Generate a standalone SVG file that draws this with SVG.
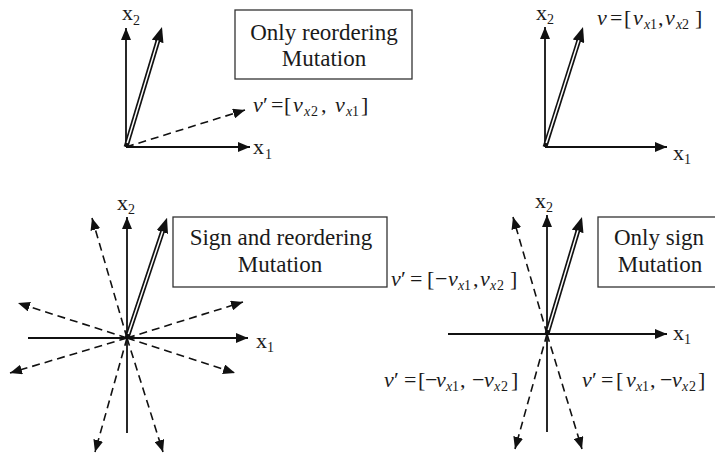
<svg xmlns="http://www.w3.org/2000/svg" width="715" height="460" viewBox="0 0 715 460" font-family="'Liberation Serif', 'DejaVu Serif', serif">
<style>
text, tspan{font-family:'Liberation Serif','DejaVu Serif',serif;fill:#1a1a1a}
.box{fill:#fff;stroke:#333;stroke-width:1.3}
.bt{font-size:23px;text-anchor:middle}
.ax{stroke:#111;stroke-width:1.8;fill:none;marker-end:url(#ah)}
.ds{stroke:#111;stroke-width:1.6;fill:none;stroke-dasharray:8,5;marker-end:url(#ah)}
.db{stroke:#111;stroke-width:4.8;fill:none;marker-end:url(#ahd)}
.dw{stroke:#fff;stroke-width:1.5;fill:none}
.m{font-size:22px}
.i{font-style:italic}
.s{font-size:14px}
.al{font-size:22px}
.as{font-size:14px}
</style>
<defs>
<marker id="ah" markerUnits="userSpaceOnUse" markerWidth="12" markerHeight="10" refX="12" refY="5" orient="auto"><path d="M0,0 L12,5 L0,10 z" fill="#111"/></marker>
<marker id="ahd" markerUnits="userSpaceOnUse" markerWidth="15" markerHeight="12" refX="7" refY="6" orient="auto"><path d="M0,0 L15,6 L0,12 z" fill="#111"/></marker>
</defs>

<g id="panel-top-left">
  <g id="box-reorder">
    <rect class="box" x="235" y="10" width="177" height="69"/>
    <text class="bt" x="324" y="40">Only reordering</text>
    <text class="bt" x="324" y="66">Mutation</text>
  </g>
  <g id="axes-tl">
    <line class="ax" x1="126" y1="147" x2="126" y2="28"/>
    <line class="ax" x1="126" y1="147" x2="250" y2="147"/>
    <text class="al" x="122" y="20">x</text><text class="as" x="133" y="25">2</text>
    <text class="al" x="253" y="154">x</text><text class="as" x="265" y="159">1</text>
  </g>
  <g id="vec-tl">
    <line class="db" x1="126" y1="147" x2="159.7" y2="34.7"/>
    <line class="dw" x1="127.2" y1="143" x2="158" y2="40.4"/>
  </g>
  <g id="vec-tl-reordered">
    <line class="ds" x1="126" y1="147" x2="245" y2="110"/>
    <text class="m">
      <tspan class="i" x="253" y="112">v</tspan><tspan x="263" y="112">′</tspan><tspan x="271" y="112">=</tspan><tspan x="284" y="112">[</tspan><tspan class="i" x="293" y="112">v</tspan><tspan class="i s" x="304" y="116">x</tspan><tspan class="s" x="311" y="116">2</tspan><tspan x="321" y="112">,</tspan><tspan class="i" x="335" y="112">v</tspan><tspan class="i s" x="346" y="116">x</tspan><tspan class="s" x="352" y="116">1</tspan><tspan x="361" y="112">]</tspan>
    </text>
  </g>
</g>

<g id="panel-top-right">
  <g id="axes-tr">
    <line class="ax" x1="545" y1="147" x2="545" y2="27"/>
    <line class="ax" x1="545" y1="147" x2="667" y2="147"/>
    <text class="al" x="536" y="20">x</text><text class="as" x="547" y="24">2</text>
    <text class="al" x="673" y="160">x</text><text class="as" x="684" y="164">1</text>
  </g>
  <g id="vec-tr">
    <line class="db" x1="545" y1="147" x2="580.6" y2="34.6"/>
    <line class="dw" x1="546.2" y1="143" x2="578.8" y2="40.3"/>
    <text class="m">
      <tspan class="i" x="597" y="25">v</tspan><tspan x="610" y="25">=</tspan><tspan x="624" y="25">[</tspan><tspan class="i" x="633" y="25">v</tspan><tspan class="i s" x="644" y="29">x</tspan><tspan class="s" x="650" y="29">1</tspan><tspan x="658" y="25">,</tspan><tspan class="i" x="665" y="25">v</tspan><tspan class="i s" x="676" y="29">x</tspan><tspan class="s" x="682" y="29">2</tspan><tspan x="695" y="25">]</tspan>
    </text>
  </g>
</g>

<g id="panel-bottom-left">
  <g id="box-sign-reorder">
    <rect class="box" x="173" y="217" width="214" height="70"/>
    <text class="bt" x="281" y="245">Sign and reordering</text>
    <text class="bt" x="280" y="272">Mutation</text>
  </g>
  <g id="axes-bl">
    <line class="ax" x1="127" y1="433" x2="127" y2="217"/>
    <line class="ax" x1="28" y1="338" x2="248" y2="338"/>
    <text class="al" x="117" y="210">x</text><text class="as" x="128" y="214">2</text>
    <text class="al" x="256" y="348">x</text><text class="as" x="267" y="352">1</text>
  </g>
  <g id="mutants-bl">
    <line class="ds" x1="127" y1="338" x2="92" y2="218"/>
    <line class="ds" x1="127" y1="338" x2="18" y2="303"/>
    <line class="ds" x1="127" y1="338" x2="243" y2="302"/>
    <line class="ds" x1="127" y1="338" x2="10" y2="373"/>
    <line class="ds" x1="127" y1="338" x2="235" y2="373"/>
    <line class="ds" x1="127" y1="338" x2="95" y2="452"/>
    <line class="ds" x1="127" y1="338" x2="163" y2="452"/>
  </g>
  <g id="vec-bl">
    <line class="db" x1="127" y1="338" x2="164.5" y2="225.4"/>
    <line class="dw" x1="128.3" y1="334" x2="162.6" y2="231.3"/>
  </g>
</g>

<g id="panel-bottom-right">
  <g id="box-sign">
    <rect class="box" x="598" y="217" width="122" height="70"/>
    <text class="bt" x="659" y="245">Only sign</text>
    <text class="bt" x="660" y="272">Mutation</text>
  </g>
  <g id="axes-br">
    <line class="ax" x1="547" y1="432" x2="547" y2="215"/>
    <line class="ax" x1="448" y1="334" x2="667" y2="334"/>
    <text class="al" x="535" y="208">x</text><text class="as" x="546" y="212">2</text>
    <text class="al" x="673" y="340">x</text><text class="as" x="684" y="344">1</text>
  </g>
  <g id="mutants-br">
    <line class="ds" x1="547" y1="334" x2="513" y2="217"/>
    <line class="ds" x1="547" y1="334" x2="515" y2="449"/>
    <line class="ds" x1="547" y1="334" x2="582" y2="449"/>
  </g>
  <g id="vec-br">
    <line class="db" x1="547" y1="334" x2="579.7" y2="224.7"/>
    <line class="dw" x1="548.2" y1="330" x2="578" y2="230.4"/>
  </g>
  <g id="labels-br">
    <text class="m">
      <tspan class="i" x="391" y="286">v</tspan><tspan x="401" y="286">′</tspan><tspan x="410" y="286">=</tspan><tspan x="427" y="286">[</tspan><tspan x="435" y="286">−</tspan><tspan class="i" x="448" y="286">v</tspan><tspan class="i s" x="458" y="290">x</tspan><tspan class="s" x="464" y="290">1</tspan><tspan x="473" y="286">,</tspan><tspan class="i" x="480" y="286">v</tspan><tspan class="i s" x="490" y="290">x</tspan><tspan class="s" x="497" y="290">2</tspan><tspan x="510" y="286">]</tspan>
    </text>
    <text class="m">
      <tspan class="i" x="384" y="387">v</tspan><tspan x="394" y="387">′</tspan><tspan x="404" y="387">=</tspan><tspan x="418" y="387">[</tspan><tspan x="425" y="387">−</tspan><tspan class="i" x="436" y="387">v</tspan><tspan class="i s" x="446" y="391">x</tspan><tspan class="s" x="452" y="391">1</tspan><tspan x="460" y="387">,</tspan><tspan x="472" y="387">−</tspan><tspan class="i" x="484" y="387">v</tspan><tspan class="i s" x="494" y="391">x</tspan><tspan class="s" x="501" y="391">2</tspan><tspan x="511" y="387">]</tspan>
    </text>
    <text class="m">
      <tspan class="i" x="582" y="387">v</tspan><tspan x="592" y="387">′</tspan><tspan x="601" y="387">=</tspan><tspan x="616" y="387">[</tspan><tspan class="i" x="626" y="387">v</tspan><tspan class="i s" x="636" y="391">x</tspan><tspan class="s" x="642" y="391">1</tspan><tspan x="650" y="387">,</tspan><tspan x="660" y="387">−</tspan><tspan class="i" x="672" y="387">v</tspan><tspan class="i s" x="682" y="391">x</tspan><tspan class="s" x="689" y="391">2</tspan><tspan x="698" y="387">]</tspan>
    </text>
  </g>
</g>
</svg>
